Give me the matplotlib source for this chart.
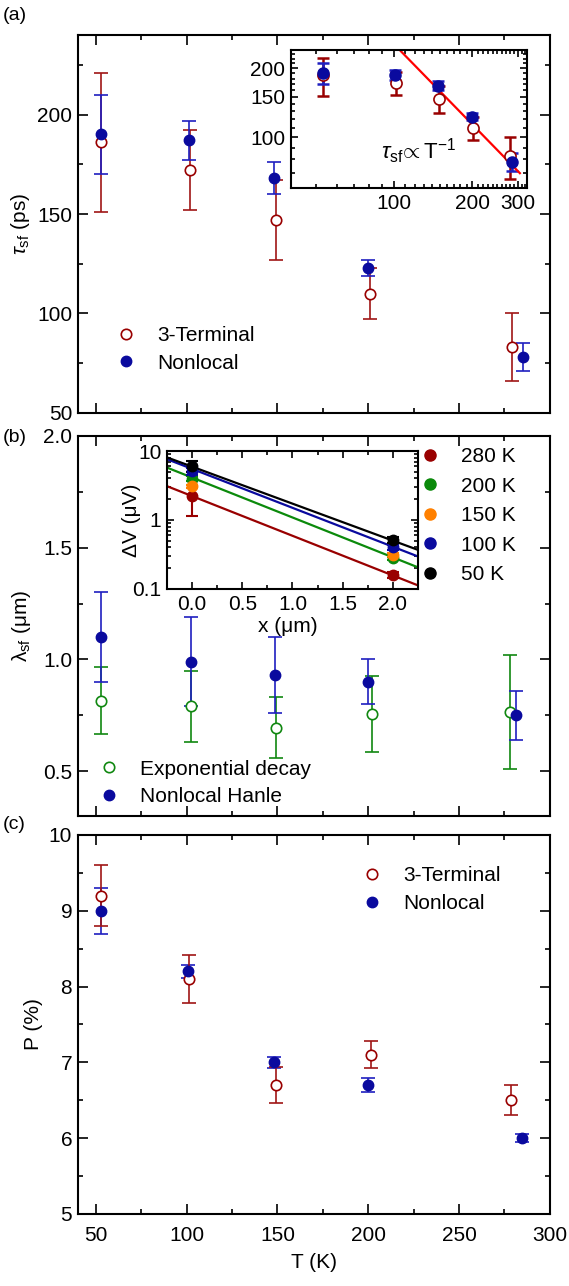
import numpy as np
import matplotlib.pyplot as plt
from matplotlib.ticker import MultipleLocator, FixedLocator, NullFormatter, FixedFormatter, LogLocator
from matplotlib.lines import Line2D

plt.rcParams['font.family'] = ['Liberation Sans', 'DejaVu Sans']
plt.rcParams['mathtext.fontset'] = 'custom'
plt.rcParams['mathtext.rm'] = 'Liberation Sans'
plt.rcParams['mathtext.it'] = 'Liberation Sans:italic'
plt.rcParams['mathtext.bf'] = 'Liberation Sans:bold'
plt.rcParams['font.size'] = 15

# (a) spin lifetime
T_3t_a = [53, 102, 149, 201, 279]
tau_3t = [186, 172, 147, 110, 83]
tau_3t_err = [35, 20, 20, 13, 17]
T_nl_a = [53, 101, 148, 200, 285]
tau_nl = [190, 187, 168, 123, 78]
tau_nl_err = [20, 10, 8, 4, 7]
# fitted power law shown in the inset
fit_tau0, fit_Tref, fit_exp = 240, 105, -1.16
fit_Trange = [105, 305]

# (b) spin diffusion length
T_exp = [53, 102.5, 149, 202, 278]
lam_exp = [0.815, 0.79, 0.695, 0.755, 0.765]
lam_exp_err = [0.15, 0.16, 0.135, 0.17, 0.255]
T_hanle = [53, 102.5, 148.5, 200, 281.5]
lam_hanle = [1.10, 0.99, 0.93, 0.90, 0.75]
lam_hanle_err = [0.2, 0.2, 0.17, 0.1, 0.11]

# (b) inset: signal vs distance
inset_labels = ['280 K', '200 K', '150 K', '100 K', '50 K']
inset_colors = ['#990000', '#0b8a0b', '#ff8000', '#0a0a9e', 'black']
x_pos = [0.0, 2.0]
dV_x0 = [2.25, 3.97, 3.09, 5.1, 6.08]
dV_x0_lo = [1.09, 0.3, 0.15, 0.6, 1.1]
dV_x0_hi = [1.0, 0.3, 0.15, 0.6, 1.0]
dV_x2 = [0.16, 0.283, 0.313, 0.40, 0.508]
dV_x2_err = [0.015, 0.02, 0.02, 0.03, 0.05]
fit_V0 = [2.22, 4.12, None, 5.5, 5.93]
fit_lam = [0.755, 0.751, None, 0.77, 0.81]

# (c) polarization
T_3t_c = [53, 101.5, 149, 201.5, 278.5]
P_3t = [9.2, 8.1, 6.7, 7.1, 6.5]
P_3t_err = [0.4, 0.32, 0.24, 0.18, 0.2]
T_nl_c = [53, 100.5, 148, 200, 284.5]
P_nl = [9.0, 8.2, 7.0, 6.7, 6.0]
P_nl_err = [0.3, 0.09, 0.07, 0.09, 0.05]

red = '#990000'
red_err = '#a01515'
blue = '#0a0a9e'
blue_err = '#1f1fc0'
green = '#118811'


def style(ax, lw=1.5):
    ax.tick_params(which='both', direction='in', top=True, right=True, width=1.2)
    ax.tick_params(which='major', length=7, pad=4)
    ax.tick_params(which='minor', length=3.5)
    for s in ax.spines.values():
        s.set_linewidth(lw)


def points(ax, T, y, err, ec, mc, filled, label=None, elw=1.2, cs=5, ms=7.5):
    ax.errorbar(T, y, yerr=err, fmt='none', ecolor=ec, elinewidth=elw, capsize=cs, capthick=elw)
    if filled:
        ax.plot(T, y, 'o', color=mc, ms=ms, mec=mc, label=label, zorder=4)
    else:
        ax.plot(T, y, 'o', mfc='white', mec=mc, ms=ms, mew=1.2, label=label, zorder=3)


def leg(ax, anchor, spacing=0.42, **kw):
    return ax.legend(loc='upper left', bbox_to_anchor=anchor, frameon=False, borderpad=0,
                     borderaxespad=0, handlelength=1.0, handletextpad=1.0,
                     labelspacing=spacing, fontsize=15, **kw)


fig = plt.figure(figsize=(5.69, 12.86), dpi=100)
L, W = 0.1367, 0.8295
ax_a = fig.add_axes([L, 0.6789, W, 0.2939])
ax_b = fig.add_axes([L, 0.3655, W, 0.2955])
ax_c = fig.add_axes([L, 0.0560, W, 0.2947])

for ax in (ax_a, ax_b, ax_c):
    style(ax)
    ax.set_xlim(40, 300)
    ax.xaxis.set_major_locator(MultipleLocator(50))
    ax.xaxis.set_minor_locator(MultipleLocator(25))
ax_a.tick_params(labelbottom=False)
ax_b.tick_params(labelbottom=False)
ax_c.tick_params(axis='x', which='major', pad=9)

# ---- (a)
points(ax_a, T_3t_a, tau_3t, tau_3t_err, red_err, red, False, '3-Terminal')
points(ax_a, T_nl_a, tau_nl, tau_nl_err, blue_err, blue, True, 'Nonlocal')
ax_a.set_ylim(50, 240)
ax_a.yaxis.set_major_locator(MultipleLocator(50))
ax_a.yaxis.set_minor_locator(MultipleLocator(25))
ax_a.set_ylabel(r'$\tau_{\rm sf}$ (ps)')
ax_a.yaxis.set_label_coords(-0.098, 0.5)
leg(ax_a, (0.08, 0.23))

ins_a = fig.add_axes([0.5114, 0.8538, 0.4148, 0.1073])
style(ins_a)
ins_a.set_xscale('log')
ins_a.set_yscale('log')
points(ins_a, T_3t_a, tau_3t, tau_3t_err, red, red, False, elw=1.8, cs=4, ms=8)
points(ins_a, T_nl_a, tau_nl, tau_nl_err, blue_err, blue, True, elw=1.8, cs=4, ms=8)
Tf = np.linspace(fit_Trange[0], fit_Trange[1], 50)
ins_a.plot(Tf, fit_tau0 * (Tf / fit_Tref) ** fit_exp, color='#ff0000', lw=1.6, zorder=2)
ins_a.set_xlim(40, 325)
ins_a.set_ylim(60, 240)
ins_a.xaxis.set_major_locator(FixedLocator([100, 200, 300]))
ins_a.xaxis.set_major_formatter(FixedFormatter(['100', '200', '300']))
ins_a.xaxis.set_minor_locator(FixedLocator([t for t in range(40, 330, 10) if t not in (100, 200, 300)]))
ins_a.xaxis.set_minor_formatter(NullFormatter())
ins_a.yaxis.set_major_locator(FixedLocator([100, 150, 200]))
ins_a.yaxis.set_major_formatter(FixedFormatter(['100', '150', '200']))
ins_a.yaxis.set_minor_locator(FixedLocator([t for t in range(60, 241, 10) if t not in (100, 150, 200)]))
ins_a.yaxis.set_minor_formatter(NullFormatter())
ins_a.tick_params(which='major', length=5)
ins_a.tick_params(which='minor', length=3)
ins_a.text(0.54, 0.27, r'$\tau_{\rm sf}\!\propto{\rm T}^{-1}$', transform=ins_a.transAxes,
           ha='center', va='center', fontsize=16)

# ---- (b)
points(ax_b, T_exp, lam_exp, lam_exp_err, green, green, False, 'Exponential decay')
points(ax_b, T_hanle, lam_hanle, lam_hanle_err, blue_err, blue, True, 'Nonlocal Hanle')
ax_b.set_ylim(0.3, 2.0)
ax_b.yaxis.set_major_locator(MultipleLocator(0.5))
ax_b.yaxis.set_minor_locator(MultipleLocator(0.25))
ax_b.yaxis.set_major_formatter(lambda v, p: f'{v:.1f}')
ax_b.set_ylabel('λ$_{\\rm sf}$ (μm)')
ax_b.yaxis.set_label_coords(-0.095, 0.5)

ins_b = fig.add_axes([0.2935, 0.5420, 0.4411, 0.1073])
style(ins_b)
ins_b.set_yscale('log')
xf = np.linspace(-0.25, 2.25, 20)
for i in range(len(inset_labels)):
    c = inset_colors[i]
    if fit_V0[i] is not None:
        ins_b.plot(xf, fit_V0[i] * np.exp(-xf / fit_lam[i]), color=c, lw=1.6, zorder=2)
    ins_b.errorbar(x_pos, [dV_x0[i], dV_x2[i]],
                   yerr=[[dV_x0_lo[i], dV_x2_err[i]], [dV_x0_hi[i], dV_x2_err[i]]],
                   fmt='o', color=c, ms=7.5, elinewidth=1.5, capsize=4, capthick=1.5, zorder=3)
ins_b.set_xlim(-0.25, 2.25)
ins_b.set_ylim(0.1, 10)
ins_b.xaxis.set_major_locator(MultipleLocator(0.5))
ins_b.xaxis.set_minor_locator(MultipleLocator(0.25))
ins_b.xaxis.set_major_formatter(lambda v, p: f'{v:.1f}')
ins_b.yaxis.set_major_locator(FixedLocator([0.1, 1, 10]))
ins_b.yaxis.set_major_formatter(FixedFormatter(['0.1', '1', '10']))
ins_b.yaxis.set_minor_locator(LogLocator(subs=np.arange(2, 10)))
ins_b.yaxis.set_minor_formatter(NullFormatter())
ins_b.tick_params(which='major', length=5)
ins_b.tick_params(which='minor', length=3)
ins_b.set_xlabel('x (μm)', labelpad=0)
ins_b.xaxis.set_label_coords(0.48, -0.2)
ins_b.set_ylabel('ΔV (μV)')
ins_b.yaxis.set_label_coords(-0.105, 0.5)
handles = [Line2D([], [], ls='none', marker='o', ms=8, color=c) for c in inset_colors]
ax_b.add_artist(leg(ax_b, (0.724, 0.97), spacing=0.5, handles=handles, labels=inset_labels))
h, l = ax_b.get_legend_handles_labels()
leg(ax_b, (0.044, 0.148), handles=h, labels=l)

# ---- (c)
points(ax_c, T_nl_c, P_nl, P_nl_err, blue_err, blue, True, 'Nonlocal')
points(ax_c, T_3t_c, P_3t, P_3t_err, red_err, red, False, '3-Terminal')
ax_c.set_ylim(5, 10)
ax_c.yaxis.set_major_locator(MultipleLocator(1))
ax_c.yaxis.set_minor_locator(MultipleLocator(0.5))
ax_c.set_ylabel('P (%)')
ax_c.yaxis.set_label_coords(-0.074, 0.5)
ax_c.set_xlabel('T (K)')
ax_c.xaxis.set_label_coords(0.5, -0.103)
h, l = ax_c.get_legend_handles_labels()
leg(ax_c, (0.601, 0.917), handles=h[::-1], labels=l[::-1])

fig.text(0.004, 0.988, '(a)', fontsize=14, va='center')
fig.text(0.004, 0.660, '(b)', fontsize=14, va='center')
fig.text(0.004, 0.359, '(c)', fontsize=14, va='center')

fig.savefig('out.png', dpi=100)
